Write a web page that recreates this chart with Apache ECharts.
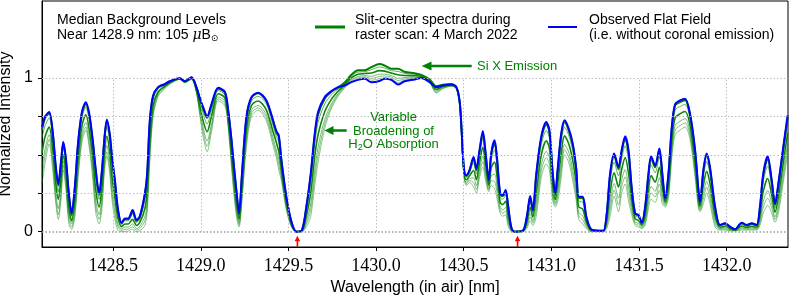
<!DOCTYPE html>
<html><head><meta charset="utf-8">
<script src="https://cdn.jsdelivr.net/npm/echarts@6/dist/echarts.min.js"></script>
<style>html,body{margin:0;padding:0;background:#fff}#c{width:789px;height:297px}</style>
</head><body><div id="c"></div>
<script>
const wavelength = [
1428.094,1428.112,1428.135,1428.155,1428.173,1428.187,1428.202,1428.215,1428.230,1428.247,
1428.263,1428.282,1428.300,1428.322,1428.344,1428.363,1428.383,1428.401,1428.420,1428.436,
1428.451,1428.464,1428.480,1428.494,1428.510,1428.527,1428.548,1428.567,1428.586,1428.611,
1428.633,1428.652,1428.681,1428.694,1428.709,1428.728,1428.757,1428.795,1428.823,1428.880,
1428.909,1428.947,1428.975,1428.994,1429.013,1429.036,1429.061,1429.099,1429.137,1429.156,
1429.175,1429.184,1429.203,1429.218,1429.235,1429.260,1429.289,1429.327,1429.374,1429.412,
1429.431,1429.445,1429.460,1429.488,1429.517,1429.545,1429.577,1429.602,1429.627,1429.650,
1429.669,1429.707,1429.745,1429.783,1429.821,1429.859,1429.897,1429.935,1429.973,1430.020,
1430.049,1430.087,1430.125,1430.163,1430.220,1430.258,1430.305,1430.344,1430.381,1430.429,
1430.458,1430.476,1430.486,1430.495,1430.505,1430.515,1430.533,1430.556,1430.572,1430.590,
1430.609,1430.625,1430.643,1430.657,1430.676,1430.689,1430.708,1430.723,1430.739,1430.752,
1430.771,1430.790,1430.837,1430.860,1430.879,1430.894,1430.914,1430.942,1430.971,1430.989,
1431.008,1431.022,1431.037,1431.056,1431.075,1431.099,1431.122,1431.142,1431.156,1431.179,
1431.199,1431.227,1431.274,1431.297,1431.316,1431.335,1431.358,1431.383,1431.401,1431.421,
1431.440,1431.458,1431.478,1431.497,1431.516,1431.535,1431.554,1431.569,1431.592,1431.616,
1431.633,1431.649,1431.668,1431.687,1431.706,1431.734,1431.763,1431.791,1431.820,1431.839,
1431.848,1431.867,1431.886,1431.905,1431.934,1431.962,1431.991,1432.019,1432.048,1432.086,
1432.114,1432.143,1432.171,1432.190,1432.209,1432.234,1432.257,1432.276,1432.295,1432.323,
1432.348];

// Observed flat field (blue)
const flatField = [
.68,.75,.778,.65,.42,.31,.45,.583,.48,.25,
.12,.30,.58,.78,.842,.77,.60,.40,.248,.40,
.62,.73,.64,.48,.335,.15,.058,.086,.086,.14,
.076,.10,.248,.378,.724,.886,.94,.96,.978,.998,
.978,1.004,.94,.87,.81,.75,.83,.935,.91,.79,
.60,.486,.27,.119,.378,.745,.875,.903,.853,.724,
.654,.626,.464,.227,.065,0,.01,.162,.378,.637,
.778,.875,.914,.94,.95,.972,.987,.994,.972,.98,
.994,.987,.957,.978,.99,1.0,.972,.94,.95,.957,
.94,.853,.70,.505,.378,.367,.40,.486,.41,.53,
.654,.51,.335,.51,.594,.49,.248,.238,.27,.18,
.03,0,.006,.097,.231,.14,.378,.616,.713,.659,
.378,.248,.42,.637,.724,.67,.572,.41,.227,.227,
.10,.015,.006,.006,.119,.378,.508,.42,.53,.62,
.53,.29,.119,.108,.058,.162,.378,.49,.43,.54,
.378,.216,.378,.68,.83,.853,.864,.767,.53,.27,
.194,.40,.508,.42,.162,.043,.054,.032,.015,.058,
.043,.054,.043,.162,.378,.49,.335,.18,.313,.55,
.756];

// Slit-center spectra (green), from the one closest to the flat field to the lowest
const slitTop = [
.66,.74,.77,.64,.41,.30,.44,.57,.47,.24,
.11,.29,.57,.77,.83,.76,.59,.39,.24,.39,
.61,.72,.63,.47,.32,.14,.055,.08,.08,.13,
.07,.095,.24,.37,.71,.88,.94,.96,.977,.998,
.978,1.003,.938,.865,.80,.74,.82,.93,.905,.785,
.59,.48,.26,.115,.37,.735,.87,.90,.85,.72,
.645,.615,.46,.22,.063,0,.01,.155,.36,.62,
.76,.865,.91,.937,.97,1.02,1.05,1.05,1.07,1.09,
1.08,1.06,1.06,1.04,1.03,1.02,.99,.945,.955,.96,
.94,.85,.70,.50,.376,.364,.396,.476,.40,.52,
.642,.50,.331,.50,.578,.477,.242,.231,.262,.173,
.029,0,.006,.093,.223,.135,.364,.603,.699,.646,
.369,.244,.409,.623,.713,.659,.56,.40,.22,.218,
.096,.014,.006,.006,.114,.364,.494,.406,.516,.605,
.514,.281,.115,.104,.056,.156,.367,.476,.418,.527,
.368,.213,.37,.67,.82,.843,.855,.759,.521,.264,
.191,.389,.495,.408,.155,.041,.052,.031,.015,.056,
.041,.052,.041,.156,.365,.474,.324,.174,.303,.539,
.743];
const slit2 = [
.61,.69,.74,.60,.37,.26,.40,.55,.44,.21,
.10,.26,.53,.74,.81,.73,.55,.34,.21,.35,
.58,.68,.59,.42,.28,.12,.046,.07,.07,.115,
.06,.08,.21,.33,.67,.86,.93,.954,.974,.996,
.976,1.0,.932,.85,.77,.70,.79,.918,.89,.77,
.56,.45,.24,.10,.34,.71,.85,.88,.83,.69,
.62,.58,.44,.21,.058,0,.008,.136,.32,.57,
.71,.83,.89,.928,.96,1.011,1.038,1.04,1.053,1.071,
1.064,1.047,1.042,1.029,1.023,1.016,.986,.936,.95,.957,
.938,.85,.69,.49,.368,.354,.384,.447,.378,.494,
.607,.474,.32,.468,.531,.436,.222,.21,.238,.152,
.024,0,.005,.082,.199,.12,.322,.563,.658,.607,
.342,.23,.376,.58,.679,.626,.524,.368,.198,.192,
.084,.012,.005,.005,.099,.322,.452,.362,.474,.558,
.464,.254,.103,.092,.05,.138,.332,.434,.382,.486,
.338,.205,.346,.64,.79,.814,.827,.734,.494,.246,
.181,.356,.456,.372,.136,.036,.045,.027,.013,.048,
.036,.045,.036,.138,.326,.426,.292,.156,.274,.504,
.705];
const slit3 = [
.51,.62,.68,.54,.31,.21,.34,.50,.39,.16,
.07,.21,.48,.69,.76,.67,.49,.27,.16,.29,
.52,.62,.52,.35,.22,.09,.032,.05,.05,.08,
.04,.06,.15,.27,.60,.82,.91,.946,.97,.994,
.974,.998,.922,.82,.72,.65,.75,.897,.87,.74,
.52,.40,.19,.08,.30,.66,.82,.85,.79,.65,
.58,.52,.40,.19,.049,0,.005,.10,.25,.49,
.63,.78,.86,.913,.955,1.0,1.023,1.028,1.032,1.047,
1.044,1.031,1.02,1.015,1.014,1.011,.981,.925,.944,.953,
.935,.845,.685,.48,.356,.337,.364,.398,.338,.449,
.549,.429,.301,.415,.453,.369,.19,.176,.198,.117,
.017,0,.003,.062,.159,.095,.253,.496,.59,.542,
.298,.208,.321,.508,.623,.571,.463,.316,.161,.147,
.064,.008,.003,.003,.074,.253,.383,.29,.404,.481,
.382,.209,.083,.073,.041,.107,.275,.364,.322,.419,
.289,.191,.307,.59,.74,.766,.781,.692,.449,.216,
.165,.301,.392,.312,.103,.028,.034,.02,.011,.036,
.028,.034,.028,.107,.262,.346,.238,.126,.226,.447,
.641];
const slit4 = [
.42,.54,.63,.48,.25,.15,.28,.46,.34,.11,
.05,.16,.42,.64,.71,.62,.43,.20,.11,.23,
.47,.56,.46,.28,.16,.05,.017,.03,.03,.05,
.02,.035,.10,.20,.53,.79,.90,.94,.965,.992,
.972,.994,.912,.79,.68,.59,.70,.876,.85,.71,
.47,.36,.15,.06,.25,.61,.79,.82,.76,.61,
.53,.47,.37,.166,.04,0,.003,.07,.18,.40,
.55,.73,.83,.898,.945,.989,1.008,1.015,1.01,1.024,
1.024,1.015,.997,1.002,1.005,1.006,.976,.914,.937,.95,
.932,.84,.68,.47,.344,.32,.344,.349,.298,.404,
.49,.384,.282,.363,.374,.301,.158,.141,.158,.082,
.009,0,.002,.043,.118,.07,.183,.43,.522,.478,
.253,.186,.266,.436,.567,.516,.403,.263,.124,.103,
.044,.005,.002,.002,.05,.183,.313,.217,.334,.403,
.299,.164,.064,.053,.031,.077,.218,.294,.262,.351,
.239,.177,.267,.54,.69,.718,.735,.65,.404,.186,
.149,.246,.327,.252,.07,.02,.023,.013,.008,.024,
.02,.023,.02,.077,.197,.266,.185,.096,.178,.389,
.577];
const slit5 = [
.36,.50,.60,.44,.21,.11,.24,.43,.31,.08,
.03,.13,.38,.61,.68,.58,.39,.16,.08,.19,
.43,.52,.42,.24,.12,.03,.008,.015,.017,.03,
.01,.02,.07,.16,.49,.77,.89,.935,.962,.991,
.971,.992,.906,.775,.65,.555,.675,.863,.835,.695,
.445,.33,.125,.045,.225,.58,.77,.805,.74,.585,
.505,.435,.35,.153,.035,0,.0015,.05,.14,.35,
.50,.70,.815,.889,.94,.982,.999,1.007,.997,1.009,
1.012,1.005,.983,.993,1.0,1.003,.973,.907,.933,.947,
.931,.84,.675,.465,.337,.31,.332,.32,.274,.377,
.455,.357,.271,.331,.327,.26,.139,.12,.134,.061,
.005,0,.001,.031,.094,.055,.141,.39,.481,.439,
.226,.173,.233,.393,.533,.483,.366,.231,.102,.076,
.032,.002,.001,.001,.035,.141,.271,.173,.292,.356,
.249,.137,.052,.041,.025,.058,.184,.252,.226,.31,
.209,.168,.243,.51,.66,.689,.707,.625,.377,.168,
.139,.213,.288,.216,.05,.015,.016,.009,.006,.017,
.015,.016,.015,.058,.158,.218,.152,.078,.149,.354,
.538];
const slitLow = [
.31,.45,.57,.40,.18,.08,.20,.40,.28,.05,
.015,.10,.35,.58,.66,.55,.35,.12,.05,.15,
.40,.49,.38,.20,.08,.01,0,0,.005,.015,
0,.005,.04,.13,.45,.75,.88,.93,.96,.99,
.97,.99,.90,.76,.62,.52,.65,.85,.82,.68,
.42,.30,.10,.03,.20,.55,.75,.79,.72,.56,
.48,.40,.33,.14,.03,0,0,.03,.10,.30,
.45,.67,.80,.88,.935,.975,.99,1.0,.985,.995,
1.0,.995,.97,.985,.995,1.0,.97,.90,.93,.945,
.93,.84,.67,.46,.33,.30,.32,.29,.25,.35,
.42,.33,.26,.30,.28,.22,.12,.10,.11,.04,
0,0,0,.02,.07,.04,.10,.35,.44,.40,
.20,.16,.20,.35,.50,.45,.33,.20,.08,.05,
.02,0,0,0,.02,.10,.23,.13,.25,.31,
.20,.11,.04,.03,.02,.04,.15,.21,.19,.27,
.18,.16,.22,.48,.63,.66,.68,.60,.35,.15,
.13,.18,.25,.18,.03,.01,.01,.005,.005,.01,
.01,.01,.01,.04,.12,.17,.12,.06,.12,.32,
.50];

const xTicks = [1428.5, 1429.0, 1429.5, 1430.0, 1430.5, 1431.0, 1431.5, 1432.0];
const yTicks = [0, 0.25, 0.5, 0.75, 1];
const yLabels = [0, 1];
const markerWavelengths = [1429.551, 1430.807];
const xMin = 1428.094, xMax = 1432.35, yMin = -0.1, yMax = 1.5;

const GREEN_NAME = 'Slit-center spectra during raster scan: 4 March 2022';
const pair = arr => wavelength.map((w, i) => [w, arr[i]]);

const greenDefs = [
  {d: slitLow, w: 0.9, o: 0.5},
  {d: slit5, w: 0.9, o: 0.55},
  {d: slit4, w: 0.9, o: 0.6},
  {d: slit3, w: 1.6, o: 0.95},
  {d: slit2, w: 0.9, o: 0.7},
  {d: slitTop, w: 2.0, o: 1}
];

const gridMarks = [];
xTicks.forEach(x => gridMarks.push([{coord: [x, 0]}, {coord: [x, 1]}]));
yTicks.forEach(y => gridMarks.push([{coord: [xMin, y], lineStyle: y === 0 ? {width: 1.6, color: '#999'} : undefined}, {coord: [xMax, y]}]));

const series = [{
  type: 'line', data: [], silent: true, z: 1,
  markLine: {silent: true, symbol: ['none', 'none'], animation: false, label: {show: false},
    lineStyle: {type: [1.5, 2], color: '#b5b5b5', width: 0.9}, data: gridMarks}
}];
greenDefs.forEach(g => series.push({
  name: GREEN_NAME, type: 'line', data: pair(g.d), showSymbol: false, smooth: 0.3, z: 2,
  lineStyle: {color: '#008000', width: g.w, opacity: g.o}, silent: true
}));
series.push({
  name: 'Observed Flat Field', type: 'line', data: pair(flatField), showSymbol: false, smooth: 0.3, z: 3,
  lineStyle: {color: '#0000ff', width: 2}, silent: true
});

const chart = echarts.init(document.getElementById('c'), null, {renderer: 'canvas'});
const option = {
  animation: false,
  grid: {left: 42, right: 1, top: 1, bottom: 50, containLabel: false, outerBoundsMode: 'none',
    show: true, borderColor: '#000', borderWidth: 1, backgroundColor: 'transparent'},
  xAxis: {
    type: 'value', min: xMin, max: xMax,
    name: 'Wavelength (in air) [nm]', nameLocation: 'middle', nameGap: 33,
    nameTextStyle: {fontFamily: 'Liberation Sans', fontSize: 16, color: '#000'},
    axisLine: {onZero: false, lineStyle: {color: '#000', width: 1}},
    axisTick: {show: true, customValues: xTicks, length: 4, lineStyle: {color: '#000'}},
    axisLabel: {customValues: xTicks, formatter: v => Number(v).toFixed(1),
      fontFamily: '"Liberation Serif", "DejaVu Serif", serif', fontSize: 18, color: '#000', margin: 10},
    splitLine: {show: false}
  },
  yAxis: {
    type: 'value', min: yMin, max: yMax,
    name: 'Normalized Intensity', nameLocation: 'middle', nameGap: 21, nameRotate: 90,
    nameTextStyle: {fontFamily: 'Liberation Sans', fontSize: 16, color: '#000'},
    axisLine: {show: true, onZero: false, lineStyle: {color: '#000', width: 1}},
    axisTick: {show: true, customValues: yTicks, length: 4, lineStyle: {color: '#000'}},
    axisLabel: {customValues: yLabels, formatter: v => String(Math.round(v)), fontFamily: 'Liberation Sans', fontSize: 16, color: '#000', margin: 9},
    splitLine: {show: false}
  },
  series: series
};
chart.setOption(option);

const graphics = [];
// top-left note
graphics.push({type: 'text', x: 57, y: 27.5, z: 10, style: {
  text: 'Median Background Levels\nNear 1428.9 nm: 105 {mu|μ}B{sun|⊙}',
  fontFamily: 'Liberation Sans', fontSize: 14, lineHeight: 15, fill: '#000', verticalAlign: 'middle', align: 'left',
  rich: {mu: {fontFamily: 'DejaVu Serif', fontStyle: 'italic', fontSize: 14, fill: '#000'},
         sun: {fontFamily: 'DejaVu Sans', fontSize: 9, fill: '#000', padding: [7, 0, 0, 0]}}
}});
// legend
graphics.push({type: 'line', z: 10, shape: {x1: 315, y1: 27, x2: 345, y2: 27}, style: {stroke: '#008000', lineWidth: 3}});
graphics.push({type: 'text', x: 355, y: 27.5, z: 10, style: {text: 'Slit-center spectra during\nraster scan: 4 March 2022',
  fontFamily: 'Liberation Sans', fontSize: 14, lineHeight: 15, fill: '#000', verticalAlign: 'middle', align: 'left'}});
graphics.push({type: 'line', z: 10, shape: {x1: 548, y1: 27, x2: 577, y2: 27}, style: {stroke: '#0000ff', lineWidth: 2}});
graphics.push({type: 'text', x: 589, y: 27.5, z: 10, style: {text: 'Observed Flat Field\n(i.e. without coronal emission)',
  fontFamily: 'Liberation Sans', fontSize: 14, lineHeight: 15, fill: '#000', verticalAlign: 'middle', align: 'left'}});
// Si X annotation
graphics.push({type: 'line', z: 10, shape: {x1: 471.7, y1: 66, x2: 429, y2: 66}, style: {stroke: '#008000', lineWidth: 2.5}});
graphics.push({type: 'polygon', z: 10, shape: {points: [[421.7, 66], [431.5, 61.5], [431.5, 70.5]]}, style: {fill: '#008000'}});
graphics.push({type: 'text', x: 477, y: 66, z: 10, style: {text: 'Si X Emission', fontFamily: 'Liberation Sans', fontSize: 13,
  fill: '#008000', verticalAlign: 'middle', align: 'left'}});
// broadening annotation
graphics.push({type: 'line', z: 10, shape: {x1: 346.7, y1: 130.5, x2: 331, y2: 130.5}, style: {stroke: '#008000', lineWidth: 2.5}});
graphics.push({type: 'polygon', z: 10, shape: {points: [[324.5, 130.5], [333.5, 126], [333.5, 135]]}, style: {fill: '#008000'}});
graphics.push({type: 'text', x: 393.5, y: 131, z: 10, style: {
  text: 'Variable\nBroadening of\nH{sub|2}O Absorption', fontFamily: 'Liberation Sans', fontSize: 13, lineHeight: 13.8,
  fill: '#008000', verticalAlign: 'middle', align: 'center',
  rich: {sub: {fontFamily: 'Liberation Sans', fontSize: 9, fill: '#008000', padding: [5, 0, 0, 0]}}
}});
// red markers
markerWavelengths.forEach(w => {
  const p = chart.convertToPixel({gridIndex: 0}, [w, 0]);
  const b = chart.convertToPixel({gridIndex: 0}, [w, yMin]);
  graphics.push({type: 'line', z: 10, shape: {x1: p[0], y1: b[1], x2: p[0], y2: p[1] + 8}, style: {stroke: '#ff0000', lineWidth: 1.6}});
  graphics.push({type: 'polygon', z: 10, shape: {points: [[p[0], p[1] + 4], [p[0] - 2.8, p[1] + 9.5], [p[0] + 2.8, p[1] + 9.5]]}, style: {fill: '#ff0000'}});
});
chart.setOption({graphic: graphics});
</script>
</body></html>
